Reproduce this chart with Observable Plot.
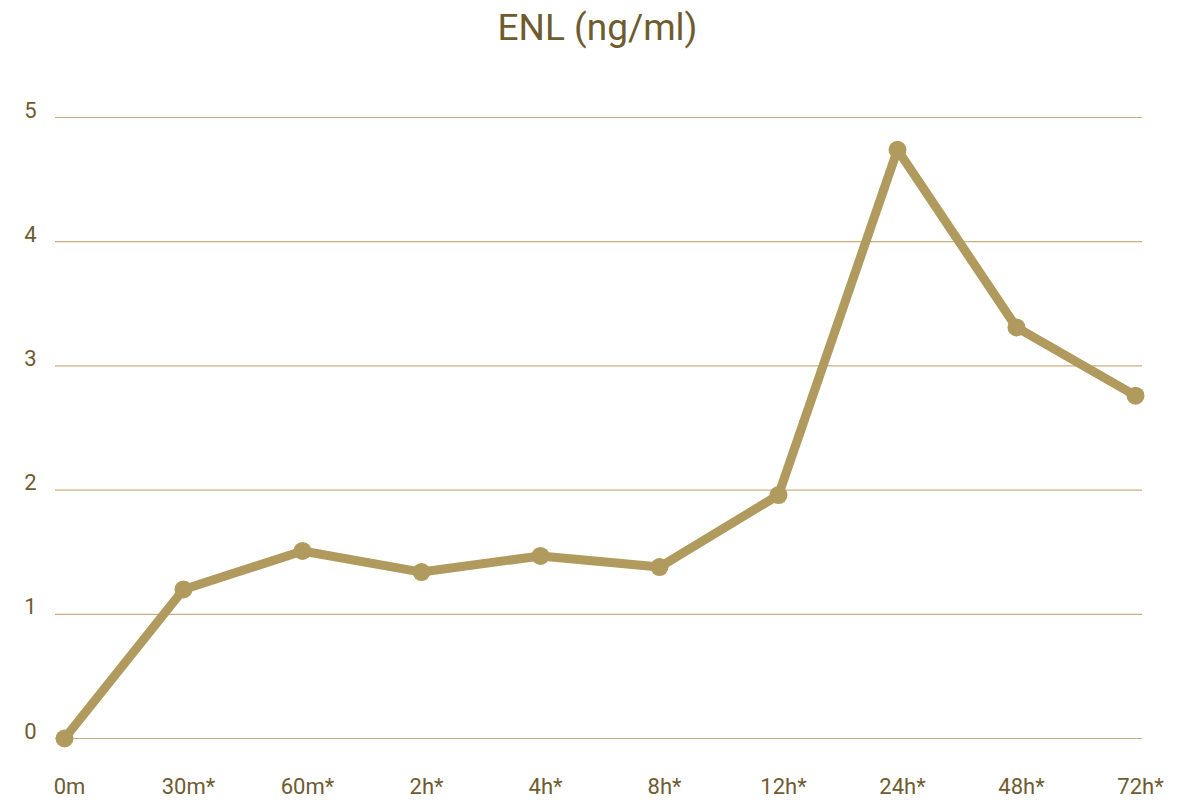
<!DOCTYPE html>
<html>
<head>
<meta charset="utf-8">
<script src="https://cdn.jsdelivr.net/npm/d3@7"></script>
<script src="https://cdn.jsdelivr.net/npm/@observablehq/plot@0.6"></script>
<style>
  html, body { margin: 0; padding: 0; background: #ffffff; }
  #title { height: 72px; line-height: 56px; text-align: center; font-family: Roboto, "Noto Sans", sans-serif; font-size: 37px; color: #6e5c30; }
  #chart svg { display: block; }
</style>
</head>
<body>
<div id="title">ENL (ng/ml)</div>
<div id="chart"></div>
<script>
const timepoints = ["0m", "30m*", "60m*", "2h*", "4h*", "8h*", "12h*", "24h*", "48h*", "72h*"];
const enlValues = [0, 1.20, 1.51, 1.34, 1.47, 1.38, 1.96, 4.74, 3.31, 2.76];
const yTicks = [0, 1, 2, 3, 4, 5];

const data = timepoints.map((t, i) => ({t, v: enlValues[i]}));
const textColor = "#6e5c30";
const lineColor = "#b09a5e";

const chart = Plot.plot({
  width: 1195,
  height: 730,
  marginLeft: 62,
  marginRight: 59,
  marginTop: 45,
  marginBottom: 64,
  style: {fontFamily: "Roboto, 'Noto Sans', sans-serif", fontSize: "22px", color: textColor, background: "#ffffff"},
  x: {type: "point", domain: timepoints, padding: 0, label: null},
  y: {domain: [0, 5], label: null},
  marks: [
    Plot.ruleY(yTicks, {stroke: "#c8b07e", strokeWidth: 1.2, insetLeft: -7, insetRight: -6}),
    Plot.axisY(yTicks, {tickSize: 0, tickPadding: 26, dy: -7, tickFormat: "d", fill: textColor, label: null}),
    Plot.axisX({tickSize: 0, tickPadding: 40, dx: 5, fill: textColor, label: null}),
    Plot.line(data, {x: "t", y: "v", stroke: lineColor, strokeWidth: 9, strokeLinejoin: "round", strokeLinecap: "round"}),
    Plot.dot(data, {x: "t", y: "v", r: 9, fill: lineColor, stroke: "none"})
  ]
});
document.getElementById("chart").appendChild(chart);
</script>
</body>
</html>
